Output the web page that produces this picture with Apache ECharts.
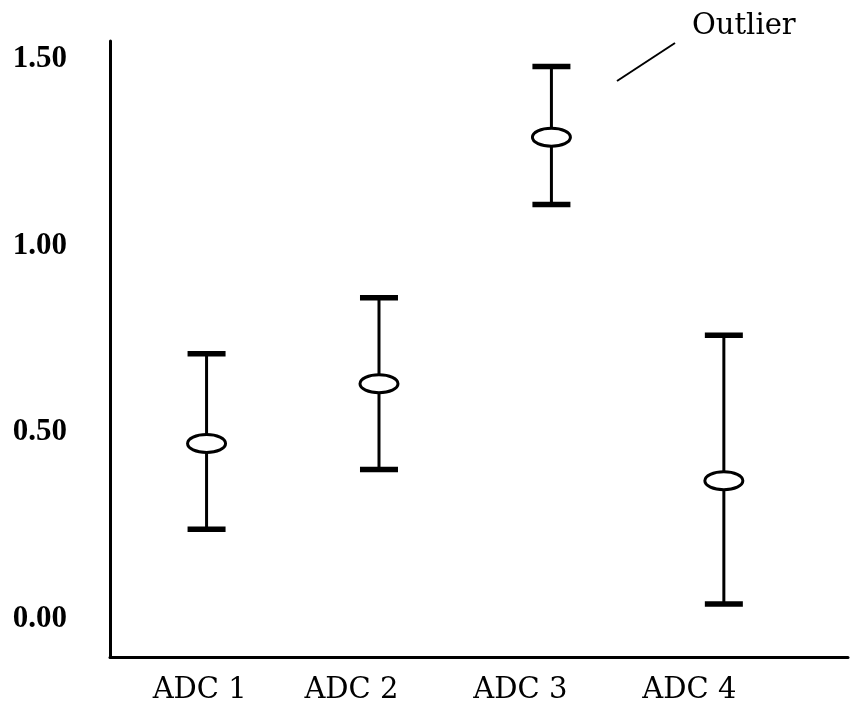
<!DOCTYPE html>
<html>
<head>
<meta charset="utf-8">
<script src="https://cdn.jsdelivr.net/npm/echarts@6/dist/echarts.min.js"></script>
<style>
  html, body { margin: 0; padding: 0; background: #fff; }
  #chart { width: 854px; height: 713px; }
</style>
</head>
<body>
<div id="chart"></div>
<script>
// ========== 数据 ==========
const categories = ['ADC 1', 'ADC 2', 'ADC 3', 'ADC 4'];
const positions = [1, 2, 3, 4];
const labelPositions = [0.96, 1.84, 2.82, 3.80];
const lows = [0.24, 0.40, 1.11, 0.04];
const means = [0.47, 0.63, 1.29, 0.37];
const highs = [0.71, 0.86, 1.48, 0.76];
const yTicks = [0, 0.5, 1.0, 1.5];

const SERIF = '"DejaVu Serif", serif';
const TIMES = '"Liberation Serif", "Times New Roman", serif';

const seriesData = positions.map((p, i) => [p, lows[i], means[i], highs[i]]);

// ========== 误差棒 ==========
function renderErrorBar(params, api) {
  const x = api.value(0);
  const lo = api.coord([x, api.value(1)]);
  const mid = api.coord([x, api.value(2)]);
  const hi = api.coord([x, api.value(3)]);
  const capW = 38, capH = 5.5;
  return {
    type: 'group',
    children: [
      { type: 'line', shape: { x1: hi[0], y1: hi[1], x2: lo[0], y2: lo[1] }, style: { stroke: '#000', lineWidth: 3 } },
      { type: 'rect', shape: { x: hi[0] - capW / 2, y: hi[1] - capH / 2, width: capW, height: capH }, style: { fill: '#000' } },
      { type: 'rect', shape: { x: lo[0] - capW / 2, y: lo[1] - capH / 2, width: capW, height: capH }, style: { fill: '#000' } },
      { type: 'ellipse', shape: { cx: mid[0], cy: mid[1], rx: 19, ry: 9 }, style: { fill: '#fff', stroke: '#000', lineWidth: 3 } }
    ]
  };
}

const chart = echarts.init(document.getElementById('chart'), null, { renderer: 'canvas' });
chart.setOption({
  backgroundColor: '#fff',
  animation: false,
  grid: { left: 110, right: 6, top: 41, bottom: 56 },
  xAxis: {
    type: 'value',
    min: 0.44,
    max: 4.72,
    splitLine: { show: false },
    axisTick: { show: false },
    axisLine: { show: true, onZero: false, lineStyle: { color: '#000', width: 3 } },
    axisLabel: {
      customValues: labelPositions,
      formatter: v => categories[labelPositions.indexOf(v)] || '',
      color: '#000',
      fontFamily: SERIF,
      fontSize: 29,
      margin: 19
    }
  },
  yAxis: {
    type: 'value',
    min: -0.102,
    max: 1.548,
    splitLine: { show: false },
    axisTick: { show: false },
    axisLine: { show: true, onZero: false, lineStyle: { color: '#000', width: 3 } },
    axisLabel: {
      customValues: yTicks,
      formatter: v => v.toFixed(2),
      color: '#000',
      fontFamily: TIMES,
      fontWeight: 'bold',
      fontSize: 31,
      margin: 43
    }
  },
  series: [{
    type: 'custom',
    renderItem: renderErrorBar,
    encode: { x: 0, y: [1, 2, 3] },
    data: seriesData
  }],
  graphic: [
    { type: 'text', left: 692, top: 12, style: { text: 'Outlier', font: '29px ' + SERIF, fill: '#000' } },
    { type: 'line', shape: { x1: 617, y1: 81, x2: 675, y2: 43 }, style: { stroke: '#000', lineWidth: 2 } }
  ]
});
</script>
</body>
</html>
